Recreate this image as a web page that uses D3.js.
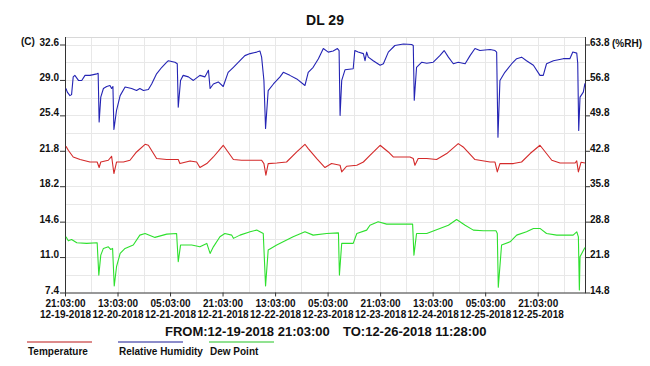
<!DOCTYPE html>
<html>
<head>
<meta charset="utf-8">
<script src="https://cdn.jsdelivr.net/npm/d3@7"></script>
<style>
  body { margin: 0; background: #fff; }
  svg { display: block; font-family: 'Liberation Sans', Arial, sans-serif; }
  .tick text { font-size: 10px; font-weight: bold; fill: #111; }
  .domain, .tick line { stroke: #333; }
</style>
</head>
<body>
<div id="container"></div>
<script>
// logger run: 12-19-2018 21:03:00 .. 12-26-2018 11:28:00, x values are hours since start
const startTime = Date.UTC(2018, 11, 19, 21, 3, 0);
const endTime = Date.UTC(2018, 11, 26, 11, 28, 0);

const tempTicks = [7.4, 11.0, 14.6, 18.2, 21.8, 25.4, 29.0, 32.6];
const rhTicks = [14.8, 21.8, 28.8, 35.8, 42.8, 49.8, 56.8, 63.8];
const timeTickHours = [0, 16, 32, 48, 64, 80, 96, 112, 128, 144];

const rhHours = [0.3, 0.7, 1.5, 2.0, 2.5, 3.0, 4.1, 5.1, 6.1, 7.6, 9.7, 10.1, 10.4, 10.9, 11.7, 12.7, 13.7, 14.2, 14.6, 14.9,
  15.7, 16.8, 18.3, 20.3, 21.8, 22.8, 23.9, 25.4, 26.4, 27.9, 29.5, 31.0, 31.5, 33.5, 34.2, 34.5, 35.2, 36.0, 37.6, 39.1,
  41.1, 42.6, 43.7, 44.2, 45.2, 46.7, 48.2, 49.7, 51.3, 53.3, 54.8, 56.4, 58.4, 59.4, 59.9, 60.6, 61.1, 61.9, 63.5, 65.5,
  66.5, 68.5, 70.6, 73.1, 74.1, 75.6, 77.2, 78.7, 80.2, 81.7, 83.0, 83.5, 83.8, 84.3, 85.3, 87.8, 88.3, 89.3, 90.9, 91.4,
  91.9, 92.4, 93.9, 96.0, 97.0, 98.5, 100.5, 103.1, 105.6, 106.1, 106.4, 107.1, 108.7, 110.2, 112.2, 114.2, 115.5, 116.8, 118.3, 119.8,
  121.9, 123.4, 124.9, 126.4, 129.5, 131.0, 131.5, 131.9, 132.5, 134.0, 136.1, 137.6, 139.1, 140.6, 142.7, 144.7, 145.7, 146.7, 148.8, 151.8,
  153.8, 154.7, 155.9, 156.2, 156.5, 156.9, 157.9, 158.4];
const rhValues = [55.1, 54.4, 53.7, 53.9, 57.4, 57.7, 56.7, 56.7, 57.7, 57.7, 58.0, 58.1, 48.5, 53.4, 55.1, 55.5, 55.7, 55.1, 55.5, 47.0,
  50.8, 53.7, 55.4, 55.1, 54.7, 55.1, 54.7, 54.9, 56.0, 58.0, 59.3, 60.3, 60.6, 60.3, 60.0, 51.4, 56.7, 57.7, 57.4, 56.7,
  57.7, 57.4, 58.7, 55.1, 56.0, 56.4, 55.5, 58.3, 59.3, 60.6, 61.6, 62.0, 62.3, 62.5, 61.3, 56.7, 47.2, 54.7, 56.0, 57.4,
  58.3, 57.7, 57.0, 55.7, 58.3, 59.3, 61.0, 63.0, 62.3, 62.5, 63.0, 62.6, 49.8, 56.7, 58.8, 59.0, 62.6, 62.3, 62.0, 60.6,
  62.3, 61.3, 60.6, 59.7, 60.0, 62.3, 63.6, 63.9, 63.8, 63.6, 52.8, 59.3, 60.3, 60.1, 60.3, 61.6, 62.6, 61.3, 60.0, 60.3,
  60.0, 61.6, 63.0, 62.6, 62.8, 62.6, 62.3, 45.5, 56.7, 58.3, 60.0, 61.0, 61.3, 60.6, 59.7, 57.7, 57.7, 60.0, 60.6, 61.0,
  61.0, 62.3, 62.1, 60.1, 46.8, 53.4, 54.4, 56.1];

const tempHours = [0.3, 1.0, 2.5, 4.6, 7.6, 9.8, 10.4, 10.9, 13.2, 14.2, 14.9, 15.7, 17.8, 19.8, 21.8, 24.4, 25.4, 27.9, 31.0, 34.5,
  35.0, 38.1, 40.1, 41.1, 43.2, 45.2, 48.2, 51.3, 53.8, 59.9, 60.6, 61.2, 61.9, 64.5, 67.5, 70.6, 73.1, 74.1, 76.7, 79.2,
  81.2, 83.8, 84.3, 85.8, 88.9, 90.9, 92.9, 96.0, 98.5, 100.0, 105.1, 106.1, 106.6, 107.6, 110.2, 113.2, 116.3, 119.8, 121.3, 124.9,
  129.5, 131.0, 131.7, 132.5, 136.6, 139.1, 141.7, 144.7, 148.3, 150.8, 155.4, 155.9, 156.4, 157.2, 158.4];
const tempValues = [22.26, 21.85, 21.17, 20.91, 20.66, 20.66, 20.10, 20.66, 20.84, 21.24, 19.49, 20.66, 20.66, 20.84, 21.68, 22.46, 22.36, 21.01, 20.91, 20.91,
  20.50, 20.77, 20.66, 20.10, 20.50, 21.17, 22.36, 20.91, 20.84, 20.84, 20.50, 19.32, 20.50, 20.56, 20.66, 21.68, 22.46, 22.02, 21.01, 20.10,
  20.50, 20.33, 19.65, 20.23, 20.33, 20.66, 21.34, 22.36, 21.68, 21.17, 21.17, 21.01, 20.33, 21.01, 21.01, 20.91, 21.52, 22.53, 22.19, 20.91,
  20.66, 20.66, 19.65, 20.50, 20.50, 20.66, 21.52, 22.36, 20.84, 20.56, 20.56, 20.77, 19.65, 20.63, 20.56];

const dewHours = [0.3, 1.0, 2.0, 3.6, 6.6, 9.8, 10.3, 10.9, 11.7, 13.2, 13.9, 14.5, 15.0, 15.7, 16.8, 18.3, 20.8, 22.8, 24.4, 27.4,
  31.0, 34.0, 34.5, 35.2, 38.6, 41.1, 43.2, 44.2, 45.2, 47.2, 48.7, 50.8, 51.3, 53.3, 56.4, 58.4, 60.4, 61.1, 61.9, 64.5,
  69.5, 73.1, 75.6, 79.7, 83.3, 83.6, 84.3, 87.8, 88.9, 91.9, 92.9, 95.4, 98.0, 101.0, 105.9, 106.3, 107.1, 110.2, 114.2, 116.8,
  119.3, 121.9, 124.4, 127.4, 131.3, 131.7, 132.0, 133.0, 135.6, 137.6, 140.6, 142.7, 144.7, 146.7, 149.8, 154.8, 155.9, 156.4, 156.7, 156.9,
  158.4];
const dewValues = [13.06, 12.65, 12.79, 12.45, 12.39, 12.45, 9.17, 11.20, 11.88, 12.04, 11.78, 11.88, 8.06, 10.02, 11.37, 11.88, 12.22, 13.23, 13.40, 13.00,
  13.33, 13.40, 10.52, 12.22, 12.22, 12.04, 12.39, 11.37, 12.04, 13.06, 13.40, 13.23, 12.90, 13.23, 13.57, 13.74, 13.40, 8.06, 11.71, 12.22,
  13.06, 13.57, 13.23, 13.40, 13.46, 9.17, 12.39, 12.39, 13.40, 13.74, 14.24, 14.58, 14.35, 14.35, 14.35, 11.20, 13.40, 13.40, 13.91, 14.24,
  14.82, 14.24, 13.74, 13.67, 13.67, 13.40, 7.93, 12.22, 12.55, 13.23, 13.57, 13.91, 13.91, 13.40, 13.23, 13.23, 13.57, 13.06, 7.65, 11.03,
  11.98];

const legendItems = [
  { name: 'Temperature', color: '#d26464' },
  { name: 'Relative Humidity', color: '#6666b8' },
  { name: 'Dew Point', color: '#6cd86c' },
];

document.addEventListener('DOMContentLoaded', () => {
  const w = 650;
  const h = 366;
  const left = 65, right = 585, top = 37, bottom = 292.5;

  const hourToDate = hr => new Date(startTime + hr * 3600e3);

  const svg = d3.select('#container').append('svg')
    .attr('width', w)
    .attr('height', h);

  const x = d3.scaleUtc()
    .domain([new Date(startTime), new Date(endTime)])
    .range([left, right]);
  const yT = d3.scaleLinear().domain([7.4, 32.6]).range([bottom, 44.5]);
  const yRH = d3.scaleLinear().domain([14.8, 63.8]).range([bottom, 44.5]);

  // grid
  const grid = svg.append('g').attr('stroke', '#e8e8e8').attr('stroke-width', 1);
  grid.selectAll('line.v')
    .data(d3.range(8, 158, 8).map(hourToDate))
    .enter().append('line')
    .attr('x1', d => Math.round(x(d)) + 0.5).attr('x2', d => Math.round(x(d)) + 0.5)
    .attr('y1', top).attr('y2', bottom);
  grid.selectAll('line.h')
    .data(d3.range(1, 15).map(i => 7.4 + i * 1.8))
    .enter().append('line')
    .attr('x1', left).attr('x2', right)
    .attr('y1', d => Math.round(yT(d)) + 0.5).attr('y2', d => Math.round(yT(d)) + 0.5);
  grid.append('line')
    .attr('x1', left).attr('x2', right)
    .attr('y1', top + 0.5).attr('y2', top + 0.5)
    .attr('stroke', '#d8d8d8');

  // axes
  const fmtTime = d3.utcFormat('%H:%M:%S');
  const fmtDate = d3.utcFormat('%m-%d-%Y');

  const xAxis = svg.append('g')
    .attr('transform', `translate(0,${bottom})`)
    .call(d3.axisBottom(x)
      .tickValues(timeTickHours.map(hourToDate))
      .tickSize(4)
      .tickSizeOuter(0)
      .tickPadding(3));
  xAxis.selectAll('.tick text')
    .text(null)
    .each(function (d) {
      const t = d3.select(this);
      t.append('tspan').attr('x', 0).attr('dy', '0.71em').text(fmtTime(d));
      t.append('tspan').attr('x', 0).attr('dy', '1.1em').text(fmtDate(d));
    });

  const yAxisL = svg.append('g')
    .attr('transform', `translate(${left},0)`)
    .call(d3.axisLeft(yT)
      .tickValues(tempTicks)
      .tickFormat(d => d.toFixed(1))
      .tickSize(5)
      .tickSizeOuter(0)
      .tickPadding(1));
  yAxisL.selectAll('.tick text').attr('dy', '0.05em');

  const yAxisR = svg.append('g')
    .attr('transform', `translate(${right},0)`)
    .call(d3.axisRight(yRH)
      .tickValues(rhTicks)
      .tickFormat(d => d.toFixed(1))
      .tickSize(5)
      .tickSizeOuter(0)
      .tickPadding(0));
  yAxisR.selectAll('.tick text').attr('dy', '0.05em');

  // axis lines run up to the frame top
  svg.append('g').attr('stroke', '#333')
    .selectAll('line')
    .data([left, right])
    .enter().append('line')
    .attr('x1', d => d + 0.5).attr('x2', d => d + 0.5)
    .attr('y1', top).attr('y2', bottom);

  // series
  const series = [
    { hours: dewHours, values: dewValues, y: yT, color: '#2ee02e' },
    { hours: tempHours, values: tempValues, y: yT, color: '#d42a2a' },
    { hours: rhHours, values: rhValues, y: yRH, color: '#2424b4' },
  ];
  series.forEach(s => {
    const line = d3.line()
      .x(d => x(hourToDate(d[0])))
      .y(d => s.y(d[1]));
    svg.append('path')
      .datum(s.hours.map((hr, i) => [hr, s.values[i]]))
      .attr('fill', 'none')
      .attr('stroke', s.color)
      .attr('stroke-width', 1.1)
      .attr('stroke-linejoin', 'round')
      .attr('d', line);
  });

  // titles
  svg.append('text')
    .attr('x', 325).attr('y', 25)
    .attr('text-anchor', 'middle')
    .attr('font-size', 14).attr('font-weight', 'bold').attr('fill', '#111')
    .text('DL 29');
  svg.append('text')
    .attr('x', 21).attr('y', 45)
    .attr('font-size', 10).attr('font-weight', 'bold').attr('fill', '#111')
    .text('(C)');
  svg.append('text')
    .attr('x', 612).attr('y', 47)
    .attr('font-size', 10).attr('font-weight', 'bold').attr('fill', '#111')
    .text('(%RH)');

  svg.append('text')
    .attr('x', 165).attr('y', 336)
    .attr('font-size', 13).attr('font-weight', 'bold').attr('fill', '#111')
    .text('FROM:' + fmtDate(new Date(startTime)) + ' ' + fmtTime(new Date(startTime)));
  svg.append('text')
    .attr('x', 343).attr('y', 336)
    .attr('font-size', 13).attr('font-weight', 'bold').attr('fill', '#111')
    .text('TO:' + fmtDate(new Date(endTime)) + ' ' + fmtTime(new Date(endTime)));

  // legend
  const legend = svg.append('g');
  const lg = legend.selectAll('g')
    .data(legendItems)
    .enter().append('g')
    .attr('transform', (d, i) => `translate(${27 + i * 91},0)`);
  lg.append('line')
    .attr('x1', 0).attr('x2', 65)
    .attr('y1', 342).attr('y2', 342)
    .attr('stroke', d => d.color)
    .attr('stroke-width', 1.5);
  lg.append('text')
    .attr('x', 1).attr('y', 355)
    .attr('font-size', 10).attr('font-weight', 'bold').attr('fill', '#111')
    .text(d => d.name);
});
</script>
</body>
</html>
